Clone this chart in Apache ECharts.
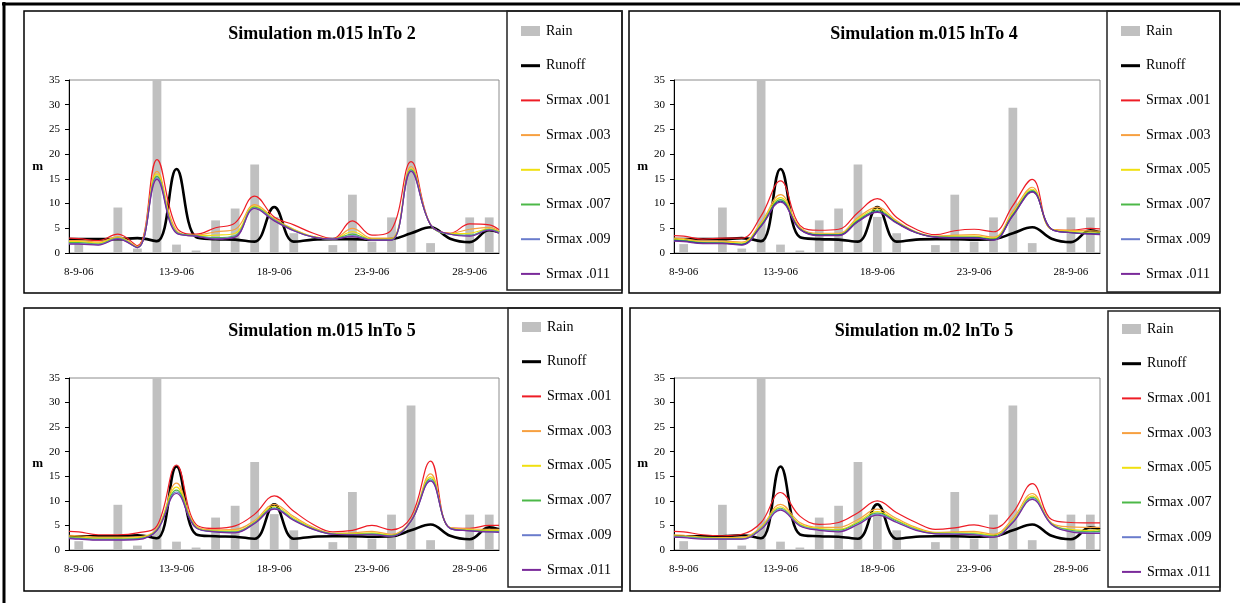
<!DOCTYPE html>
<html>
<head>
<meta charset="utf-8">
<title>Simulations</title>
<script src="https://cdn.jsdelivr.net/npm/echarts@6/dist/echarts.min.js"></script>
<style>
html, body { margin: 0; padding: 0; background: #fff; }
#main { width: 1240px; height: 603px; }
</style>
</head>
<body>
<div id="main"></div>
<script>
// daily categories for the rain bars
var dates = ['8-9-06', '9-9-06', '10-9-06', '11-9-06', '12-9-06', '13-9-06', '14-9-06', '15-9-06',
    '16-9-06', '17-9-06', '18-9-06', '19-9-06', '20-9-06', '21-9-06', '22-9-06', '23-9-06',
    '24-9-06', '25-9-06', '26-9-06', '27-9-06', '28-9-06', '29-9-06'];
var rain = [1.8, 0, 9.2, 0.9, 35, 1.7, 0.5, 6.6, 9.0, 17.9, 7.3, 4.0, 0, 1.6, 11.8, 2.3, 7.2, 29.4, 2.0, 0, 7.2, 7.2];

// lines: time in days from 8-9-06 (plot edges + mid-day points)
var lineDays = [0, 0.5, 1.5, 2.5, 3.5, 4.5, 5.5, 6.5, 7.5, 8.5, 9.5, 10.5, 11.5, 12.5, 13.5, 14.5,
    15.5, 16.5, 17.5, 18.5, 19.5, 20.5, 21.5, 22];
var runoff = [2.8, 2.8, 2.8, 2.8, 3.0, 2.4, 17.0, 3.2, 2.8, 2.7, 2.3, 9.3, 2.3, 2.7, 2.8, 2.8, 2.7, 2.8, 4.0, 5.2, 2.9, 2.2, 4.6, 4.2];

var srmaxNames = ['Srmax .001', 'Srmax .003', 'Srmax .005', 'Srmax .007', 'Srmax .009', 'Srmax .011'];

// Simulation m.015 lnTo 2
var p1_001 = [3.0, 2.9, 2.5, 3.8, 1.5, 18.9, 5.2, 3.8, 5.1, 6.1, 11.5, 7.3, 5.7, 4.0, 2.9, 6.5, 3.6, 4.7, 18.5, 5.7, 4.0, 5.9, 5.7, 4.7];
var p1_003 = [2.5, 2.5, 2.2, 3.3, 1.3, 16.5, 4.6, 3.6, 4.3, 4.8, 9.8, 7.0, 4.8, 3.3, 2.8, 5.0, 3.0, 3.0, 17.5, 5.7, 4.0, 4.8, 5.2, 4.5];
var p1_005 = [2.3, 2.3, 2.0, 3.1, 1.2, 16.0, 4.3, 3.5, 3.6, 4.0, 9.5, 6.8, 4.7, 3.3, 2.8, 4.3, 2.8, 2.8, 17.1, 5.7, 3.9, 4.0, 4.9, 4.3];
var p1_007 = [2.1, 2.1, 1.8, 3.0, 1.1, 15.5, 4.2, 3.5, 3.1, 3.5, 9.3, 6.7, 4.6, 3.2, 2.8, 3.8, 2.7, 2.7, 16.8, 5.7, 3.8, 3.6, 4.8, 4.2];
var p1_009 = [1.9, 1.9, 1.7, 2.9, 1.1, 15.2, 4.1, 3.4, 2.9, 3.3, 9.1, 6.6, 4.5, 3.2, 2.8, 3.5, 2.6, 2.6, 16.6, 5.7, 3.8, 3.5, 4.7, 4.1];
var p1_011 = [1.8, 1.8, 1.6, 2.8, 1.1, 14.9, 4.0, 3.4, 2.8, 3.2, 9.0, 6.5, 4.5, 3.2, 2.8, 3.3, 2.6, 2.6, 16.5, 5.7, 3.8, 3.4, 4.6, 4.0];

// Simulation m.015 lnTo 4
var p2_001 = [3.5, 3.4, 2.8, 3.0, 3.0, 7.5, 14.6, 5.6, 4.6, 4.8, 8.2, 11.0, 7.2, 4.8, 3.7, 4.5, 4.8, 4.3, 9.6, 14.9, 4.8, 4.6, 5.0, 4.9];
var p2_003 = [3.0, 2.9, 2.4, 2.4, 2.2, 6.2, 11.8, 5.2, 4.0, 4.0, 7.2, 9.3, 6.5, 4.3, 3.4, 3.6, 3.7, 3.2, 8.4, 13.3, 4.8, 4.6, 4.5, 4.4];
var p2_005 = [2.8, 2.7, 2.2, 2.2, 2.0, 5.9, 11.2, 5.0, 3.8, 3.8, 6.9, 8.9, 6.3, 4.2, 3.3, 3.4, 3.4, 3.0, 8.0, 12.9, 4.8, 4.4, 4.2, 4.2];
var p2_007 = [2.6, 2.5, 2.1, 2.0, 1.8, 5.7, 10.8, 4.9, 3.7, 3.7, 6.6, 8.6, 6.2, 4.2, 3.3, 3.2, 3.2, 2.8, 7.8, 12.6, 4.8, 4.2, 4.0, 4.0];
var p2_009 = [2.5, 2.4, 2.0, 2.0, 1.7, 5.5, 10.5, 4.8, 3.6, 3.6, 6.4, 8.4, 6.1, 4.1, 3.2, 3.1, 3.1, 2.7, 7.6, 12.4, 4.8, 4.1, 3.9, 3.8];
var p2_011 = [2.4, 2.3, 1.9, 1.9, 1.6, 5.4, 10.3, 4.8, 3.5, 3.5, 6.3, 8.2, 6.0, 4.1, 3.2, 3.0, 3.0, 2.6, 7.5, 12.3, 4.8, 4.1, 3.8, 3.7];

// Simulation m.015 lnTo 5
var p3_001 = [3.8, 3.7, 3.1, 3.1, 3.5, 4.9, 17.3, 5.2, 4.4, 4.9, 7.3, 11.0, 7.9, 5.2, 3.7, 4.0, 5.0, 4.1, 6.7, 18.1, 4.5, 4.4, 5.0, 5.0];
var p3_003 = [3.0, 2.9, 2.6, 2.6, 2.7, 4.3, 13.6, 4.9, 4.1, 4.2, 6.0, 9.3, 6.8, 4.6, 3.4, 3.5, 3.8, 3.2, 6.0, 15.5, 4.5, 4.3, 4.2, 4.2];
var p3_005 = [2.7, 2.6, 2.4, 2.4, 2.5, 4.2, 12.8, 4.7, 3.9, 3.9, 5.7, 8.9, 6.5, 4.4, 3.3, 3.3, 3.5, 3.0, 6.0, 14.9, 4.5, 4.1, 4.0, 4.0];
var p3_007 = [2.5, 2.4, 2.2, 2.2, 2.3, 4.1, 12.2, 4.6, 3.8, 3.7, 5.6, 8.6, 6.2, 4.3, 3.3, 3.2, 3.3, 2.9, 5.9, 14.5, 4.4, 4.0, 3.8, 3.8];
var p3_009 = [2.4, 2.3, 2.1, 2.1, 2.2, 4.0, 11.8, 4.5, 3.7, 3.6, 5.5, 8.4, 6.1, 4.2, 3.2, 3.1, 3.2, 2.8, 5.9, 14.2, 4.4, 3.9, 3.7, 3.7];
var p3_011 = [2.3, 2.2, 2.0, 2.0, 2.1, 4.0, 11.5, 4.5, 3.7, 3.5, 5.4, 8.3, 6.0, 4.2, 3.2, 3.1, 3.1, 2.8, 5.9, 14.0, 4.4, 3.9, 3.7, 3.6];

// Simulation m.02 lnTo 5
var p4_001 = [3.8, 3.7, 3.1, 2.9, 3.2, 5.6, 11.7, 6.9, 5.2, 5.6, 7.6, 10.0, 7.6, 5.6, 4.2, 4.5, 5.1, 4.4, 7.6, 13.5, 6.2, 5.6, 5.5, 5.5];
var p4_003 = [3.1, 3.0, 2.6, 2.5, 2.6, 4.7, 9.3, 5.6, 4.6, 4.6, 6.2, 8.3, 6.4, 4.6, 3.6, 3.7, 3.8, 3.2, 6.4, 11.5, 5.5, 4.7, 4.6, 4.6];
var p4_005 = [2.9, 2.8, 2.5, 2.4, 2.4, 4.5, 8.8, 5.3, 4.4, 4.2, 5.8, 7.8, 6.1, 4.4, 3.5, 3.5, 3.5, 3.0, 6.0, 11.0, 5.4, 4.2, 4.0, 4.1];
var p4_007 = [2.8, 2.7, 2.4, 2.3, 2.3, 4.4, 8.5, 5.1, 4.2, 4.0, 5.5, 7.5, 5.9, 4.2, 3.4, 3.4, 3.3, 2.8, 5.8, 10.7, 5.3, 4.0, 3.7, 3.8];
var p4_009 = [2.7, 2.6, 2.3, 2.2, 2.2, 4.3, 8.3, 5.0, 4.1, 3.8, 5.3, 7.3, 5.7, 4.1, 3.3, 3.3, 3.2, 2.7, 5.7, 10.5, 5.2, 3.8, 3.5, 3.5];
var p4_011 = [2.6, 2.5, 2.2, 2.2, 2.2, 4.2, 8.1, 4.9, 4.0, 3.7, 5.2, 7.1, 5.6, 4.0, 3.3, 3.2, 3.1, 2.6, 5.6, 10.3, 5.2, 3.7, 3.4, 3.4];

var FONT = 'Liberation Serif';

var panels = [
    { title: 'Simulation m.015 lnTo 2', sims: [p1_001, p1_003, p1_005, p1_007, p1_009, p1_011],
      box: [24, 11, 598, 282], legendBox: [507, 11, 115, 279], grid: [69, 80, 430, 173],
      titleX: 322, titleY: 25, legendX: 521, legendY: 24, blue: '#6a7ccc' },
    { title: 'Simulation m.015 lnTo 4', sims: [p2_001, p2_003, p2_005, p2_007, p2_009, p2_011],
      box: [629, 11, 591, 282], legendBox: [1107, 11, 113, 281], grid: [674, 80, 426, 173],
      titleX: 924, titleY: 25, legendX: 1121, legendY: 24, blue: '#1f3c9c' },
    { title: 'Simulation m.015 lnTo 5', sims: [p3_001, p3_003, p3_005, p3_007, p3_009, p3_011],
      box: [24, 308, 598, 283], legendBox: [508, 308, 114, 279], grid: [69, 378, 430, 172],
      titleX: 322, titleY: 322, legendX: 522, legendY: 320, blue: '#5a70c8' },
    { title: 'Simulation m.02 lnTo 5', sims: [p4_001, p4_003, p4_005, p4_007, p4_009, p4_011],
      box: [630, 308, 590, 283], legendBox: [1108, 311, 112, 276], grid: [674, 378, 426, 172],
      titleX: 924, titleY: 322, legendX: 1122, legendY: 322, blue: '#7a9ad8' }
];

var grids = [], xAxes = [], yAxes = [], series = [], legends = [], titles = [];
var graphics = [
    // outer frame (top and left)
    { type: 'line', shape: { x1: 2, y1: 4, x2: 1240, y2: 4 }, style: { stroke: '#000', lineWidth: 3 } },
    { type: 'line', shape: { x1: 4, y1: 2, x2: 4, y2: 603 }, style: { stroke: '#000', lineWidth: 3 } }
];

var ITEM_STEP = 34.7;

function legendBlock(x, y, names, icon, h, gap) {
    return {
        orient: 'vertical', left: x, top: y, padding: 0, itemGap: gap,
        itemWidth: 19, itemHeight: h, selectedMode: false, icon: icon,
        textStyle: { fontFamily: FONT, fontSize: 14, color: '#000', lineHeight: 14, padding: [0, 0, 0, 1] },
        data: names
    };
}

panels.forEach(function (p, k) {
    var colors = ['#ee1c25', '#f7a040', '#f0e010', '#4cb848', p.blue, '#7a2a9a'];

    graphics.push({ type: 'rect', shape: { x: p.box[0], y: p.box[1], width: p.box[2], height: p.box[3] },
        style: { fill: null, stroke: '#000', lineWidth: 1.5 }, z: -1 });
    graphics.push({ type: 'rect', shape: { x: p.legendBox[0], y: p.legendBox[1], width: p.legendBox[2], height: p.legendBox[3] },
        style: { fill: null, stroke: '#222', lineWidth: 1.5 }, z: -1 });

    titles.push({
        text: p.title, left: p.titleX, top: p.titleY, textAlign: 'center', padding: 0,
        textStyle: { fontFamily: FONT, fontSize: 18, fontWeight: 'bold', color: '#000' }
    });

    grids.push({ left: p.grid[0], top: p.grid[1], width: p.grid[2], height: p.grid[3],
        show: true, borderColor: '#8c8c8c', borderWidth: 1, backgroundColor: 'transparent',
        outerBoundsMode: 'none' });

    xAxes.push({
        type: 'category', gridIndex: k, data: dates, boundaryGap: true,
        axisLine: { lineStyle: { color: '#000', width: 1 } },
        axisTick: { interval: 4, length: 4, lineStyle: { color: '#000' } },
        axisLabel: { interval: 4, margin: 14, fontFamily: FONT, fontSize: 11, color: '#000' },
        splitLine: { show: false }
    });
    xAxes.push({ type: 'value', gridIndex: k, min: 0, max: 22, show: false });

    yAxes.push({
        type: 'value', gridIndex: k, min: 0, max: 35, interval: 5,
        name: 'm', nameLocation: 'middle', nameRotate: 0, nameGap: 26,
        nameTextStyle: { fontFamily: FONT, fontSize: 13, fontWeight: 'bold', color: '#000' },
        axisLine: { show: true, lineStyle: { color: '#000', width: 1 } },
        axisTick: { show: true, length: 4, lineStyle: { color: '#000' } },
        axisLabel: { margin: 9, fontFamily: FONT, fontSize: 11, color: '#000' },
        splitLine: { show: false }
    });

    series.push({
        name: 'Rain', type: 'bar', xAxisIndex: 2 * k, yAxisIndex: k, data: rain,
        barWidth: '45%', itemStyle: { color: '#c0c0c0' }, silent: true
    });
    series.push({
        name: 'Runoff', type: 'line', xAxisIndex: 2 * k + 1, yAxisIndex: k,
        data: lineDays.map(function (d, i) { return [d, runoff[i]]; }),
        smooth: 0.4, symbol: 'none', lineStyle: { color: '#000', width: 2.6 }, itemStyle: { color: '#000' }
    });
    p.sims.forEach(function (vals, j) {
        series.push({
            name: srmaxNames[j], type: 'line', xAxisIndex: 2 * k + 1, yAxisIndex: k,
            data: lineDays.map(function (d, i) { return [d, vals[i]]; }),
            smooth: 0.4, symbol: 'none', lineStyle: { color: colors[j], width: 1.2 }, itemStyle: { color: colors[j] }
        });
    });

    // legend in three blocks so each icon gets its own height
    legends.push(legendBlock(p.legendX, p.legendY, ['Rain'], 'rect', 10, 0));
    legends.push(legendBlock(p.legendX, p.legendY + ITEM_STEP, ['Runoff'], 'rect', 3, 0));
    legends.push(legendBlock(p.legendX, p.legendY + 2 * ITEM_STEP, srmaxNames, 'rect', 2, ITEM_STEP - 14));
});

var myChart = echarts.init(document.getElementById('main'), null, { renderer: 'canvas' });
myChart.setOption({
    animation: false,
    backgroundColor: '#fff',
    title: titles,
    grid: grids,
    xAxis: xAxes,
    yAxis: yAxes,
    legend: legends,
    series: series,
    graphic: graphics
});
</script>
</body>
</html>
